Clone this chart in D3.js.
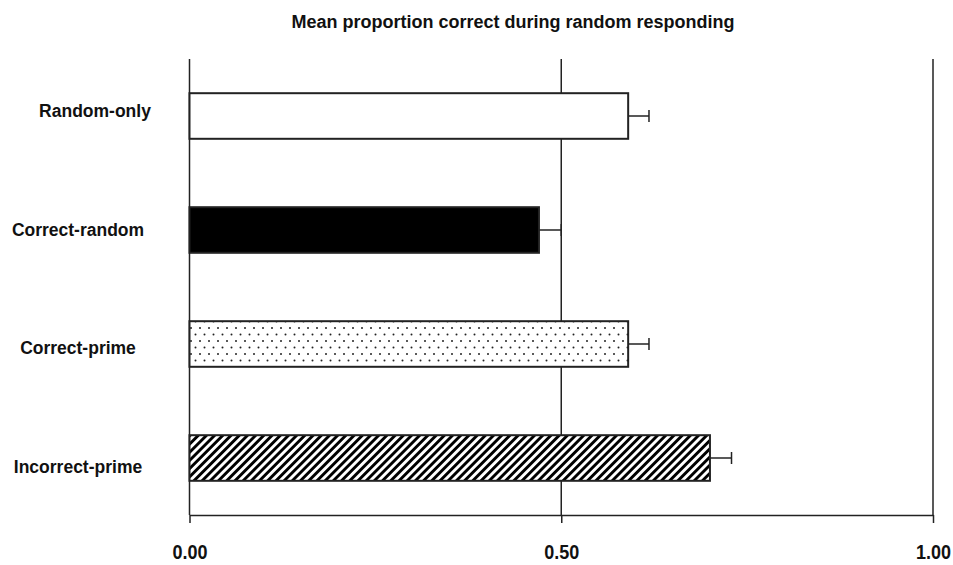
<!DOCTYPE html>
<html>
<head>
<meta charset="utf-8">
<script src="https://cdn.jsdelivr.net/npm/d3@7"></script>
<style>
  body { margin: 0; background: #fff; }
  text { font-family: "Liberation Sans", Arial, sans-serif; font-weight: bold; fill: #111; }
</style>
</head>
<body>
<svg width="953" height="565"></svg>
<script>
// data
var groups = ["Random-only", "Correct-random", "Correct-prime", "Incorrect-prime"];
var means = [0.590, 0.470, 0.590, 0.700];
var errors = [0.028, 0.030, 0.028, 0.029];
var fills = ["white", "black", "url(#dots)", "url(#hatch)"];
var ticks = [0, 0.5, 1];

var width = 953;
var height = 565;
var left = 189.5, right = 933;
var top_ = 59, bottom = 515;

var svg = d3.select("svg");

// patterns
var defs = svg.append("defs");
var dots = defs.append("pattern")
	.attr("id", "dots")
	.attr("patternUnits", "userSpaceOnUse")
	.attr("width", 9)
	.attr("height", 13);
dots.append("rect").attr("width", 9).attr("height", 13).attr("fill", "white");
dots.append("circle").attr("cx", 2).attr("cy", 3).attr("r", 1).attr("fill", "#222");
dots.append("circle").attr("cx", 6.5).attr("cy", 9.5).attr("r", 1).attr("fill", "#222");

var hatch = defs.append("pattern")
	.attr("id", "hatch")
	.attr("patternUnits", "userSpaceOnUse")
	.attr("width", 5.8)
	.attr("height", 10)
	.attr("patternTransform", "rotate(45)");
hatch.append("rect").attr("width", 5.8).attr("height", 10).attr("fill", "white");
hatch.append("rect").attr("width", 2.9).attr("height", 10).attr("fill", "black");

var xScale = d3.scaleLinear()
	.domain([0, 1])
	.range([left, right]);

var yScale = d3.scaleBand()
	.domain(groups)
	.range([top_, bottom])
	.paddingInner(0.6)
	.paddingOuter(0.3);

// labels sit on their own scale, they do not line up exactly with the bars
var labelScale = d3.scalePoint()
	.domain(groups)
	.range([117, 473]);

// title
svg.append("text")
	.attr("x", 513)
	.attr("y", 28)
	.style("text-anchor", "middle")
	.style("font-size", "18px")
	.text("Mean proportion correct during random responding");

// gridlines
svg.append("g")
	.selectAll("line")
	.data(ticks)
	.enter()
	.append("line")
		.attr("x1", d => xScale(d))
		.attr("x2", d => xScale(d))
		.attr("y1", top_)
		.attr("y2", bottom)
		.attr("stroke", "#222")
		.attr("stroke-width", 1.5);

// x axis
var xAxis = d3.axisBottom(xScale)
	.tickValues(ticks)
	.tickSize(8)
	.tickSizeOuter(0)
	.tickFormat(d3.format(".2f"));

var gx = svg.append("g")
	.attr("transform", "translate(0," + bottom + ")")
	.call(xAxis);
gx.select(".domain").attr("stroke", "#222").attr("stroke-width", 1.5);
gx.selectAll(".tick line").attr("stroke", "#222").attr("stroke-width", 1.5);
gx.selectAll(".tick text")
	.attr("y", 30)
	.attr("transform", "scale(0.9,1)")
	.style("font-size", "20px")
	.style("font-family", "'Liberation Sans', Arial, sans-serif")
	.style("font-weight", "bold")
	.attr("fill", "#111");

// error bars
var eb = svg.append("g")
	.selectAll("g")
	.data(groups)
	.enter()
	.append("g");
eb.append("line")
	.attr("x1", (d, i) => xScale(means[i]))
	.attr("x2", (d, i) => xScale(means[i] + errors[i]))
	.attr("y1", d => yScale(d) + yScale.bandwidth() / 2)
	.attr("y2", d => yScale(d) + yScale.bandwidth() / 2)
	.attr("stroke", "#222")
	.attr("stroke-width", 1.5);
eb.append("line")
	.attr("x1", (d, i) => xScale(means[i] + errors[i]))
	.attr("x2", (d, i) => xScale(means[i] + errors[i]))
	.attr("y1", d => yScale(d) + yScale.bandwidth() / 2 - 6)
	.attr("y2", d => yScale(d) + yScale.bandwidth() / 2 + 6)
	.attr("stroke", "#222")
	.attr("stroke-width", 1.5);

// bars
svg.append("g")
	.selectAll("rect")
	.data(groups)
	.enter()
	.append("rect")
		.attr("x", xScale(0))
		.attr("y", d => yScale(d))
		.attr("width", (d, i) => xScale(means[i]) - xScale(0))
		.attr("height", yScale.bandwidth())
		.attr("fill", (d, i) => fills[i])
		.attr("stroke", "#222")
		.attr("stroke-width", 2);

// category labels
var labelShift = { "Random-only": 17 };
svg.append("g")
	.selectAll("text")
	.data(groups)
	.enter()
	.append("text")
		.attr("x", d => 78 + (labelShift[d] || 0))
		.attr("y", d => labelScale(d))
		.style("text-anchor", "middle")
		.style("font-size", "17.5px")
		.text(d => d);
</script>
</body>
</html>
